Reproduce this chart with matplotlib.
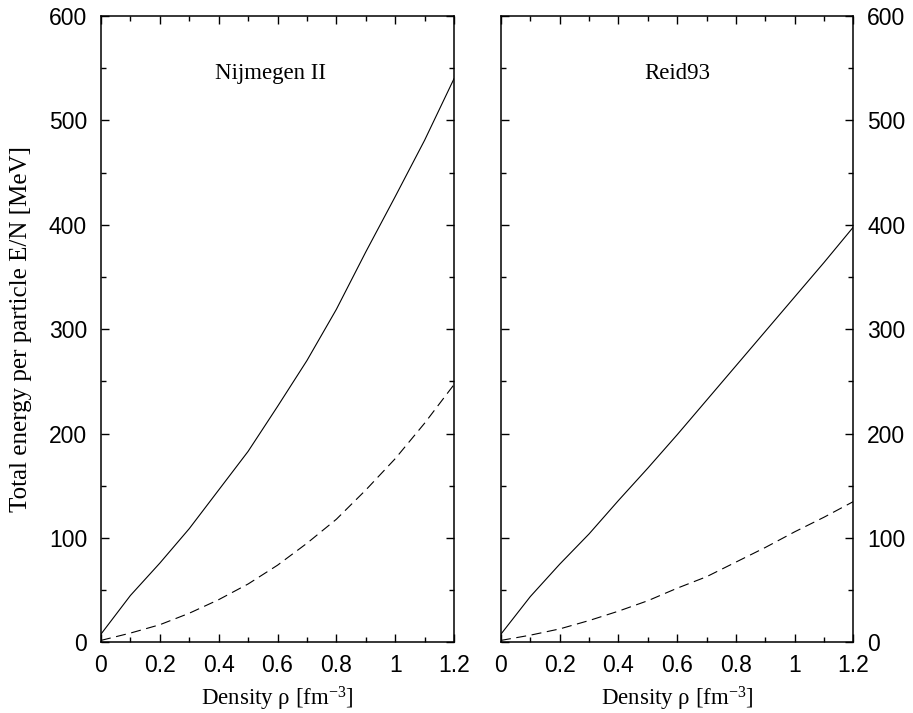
import matplotlib
matplotlib.use("Agg")
import matplotlib.pyplot as plt
from matplotlib.ticker import MultipleLocator, FuncFormatter

plt.rcParams['font.family'] = ['Liberation Sans', 'DejaVu Sans']
plt.rcParams['mathtext.fontset'] = 'custom'
plt.rcParams['mathtext.rm'] = 'Liberation Serif'
plt.rcParams['mathtext.it'] = 'Liberation Serif:italic'

density = [0.0, 0.1, 0.2, 0.3, 0.4, 0.5, 0.6, 0.7, 0.8, 0.9, 1.0, 1.1, 1.2]

nijmegen_solid = [8, 45, 76, 109, 146, 183, 226, 270, 319, 374, 427, 481, 540]
nijmegen_dashed = [2, 9, 17, 28, 41, 56, 74, 95, 118, 146, 176, 210, 247]

reid_solid = [8, 44, 75, 104, 136, 167, 199, 232, 265, 298, 331, 364, 398]
reid_dashed = [2, 7, 13, 21, 30, 40, 52, 63, 77, 91, 106, 120, 135]

panel_names = ["Nijmegen II", "Reid93"]
xticks = [0, 0.2, 0.4, 0.6, 0.8, 1.0, 1.2]
yticks = [0, 100, 200, 300, 400, 500, 600]

serif = 'Liberation Serif'

fig = plt.figure(figsize=(9.13, 7.13), dpi=100)
ax1 = fig.add_axes([0.1106, 0.0989, 0.3867, 0.8787])
ax2 = fig.add_axes([0.5487, 0.0989, 0.3861, 0.8787])

data = [(ax1, nijmegen_solid, nijmegen_dashed, 0.575),
        (ax2, reid_solid, reid_dashed, 0.60)]

fmt = FuncFormatter(lambda v, p: f"{v:g}")

for i, (ax, solid, dashed, tx) in enumerate(data):
    ax.plot(density, solid, color='black', lw=0.8)
    ax.plot(density, dashed, color='black', lw=0.8, linestyle=(0, (9, 5)))
    ax.set_xlim(0, 1.2)
    ax.set_ylim(0, 600)
    ax.set_xticks(xticks)
    ax.set_yticks(yticks)
    ax.xaxis.set_minor_locator(MultipleLocator(0.1))
    ax.yaxis.set_minor_locator(MultipleLocator(50))
    ax.xaxis.set_major_formatter(fmt)
    ax.tick_params(which='both', direction='in', top=True, right=True,
                   width=1.0, labelsize=16.5)
    ax.tick_params(which='major', length=6)
    ax.tick_params(which='minor', length=3.5)
    ax.tick_params(axis='x', pad=8)
    ax.tick_params(axis='y', pad=10)
    for s in ax.spines.values():
        s.set_linewidth(1.1)
    ax.set_xlabel(r"Density ρ [fm$^{-3}$]", family=serif, fontsize=16.5, labelpad=6)
    ax.text(tx, 545, panel_names[i], family=serif, fontsize=16.5,
            ha='center', va='center')

ax1.set_ylabel("Total energy per particle E/N [MeV]", family=serif,
               fontsize=18, labelpad=12)
ax2.tick_params(axis='y', which='both', labelleft=False, labelright=True)

fig.savefig("out.png", dpi=100)
